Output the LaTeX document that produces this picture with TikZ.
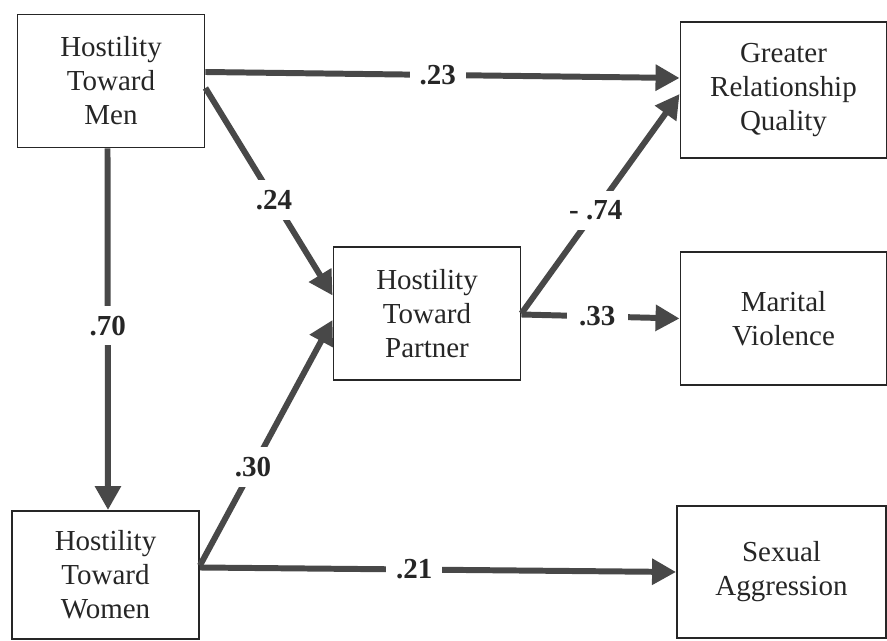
\documentclass[tikz,border=0pt]{standalone}
\usepackage{fontspec}
\setmainfont{Liberation Serif}
\usepackage{tikz}
\usetikzlibrary{arrows.meta,positioning,calc}
\definecolor{inkgray}{RGB}{38,38,38}
\definecolor{linegray}{RGB}{72,72,72}

\begin{document}
\begin{tikzpicture}[
  x=0.02cm, y=-0.02cm,
  block/.style={draw=inkgray, line width=1.1pt, minimum width=3.74cm, minimum height=2.66cm, align=center, text=inkgray, font=\rmfamily\fontsize{16.5}{19.4}\selectfont},
  outblock/.style={block, minimum width=4.12cm},
  effect/.style={-{Triangle[length=0.48cm, width=0.5cm]}, line width=3.4pt, draw=linegray},
  coef/.style={fill=white, inner sep=0.2cm, text=inkgray, font=\rmfamily\fontsize{16.5}{19}\selectfont\bfseries},
]
\useasboundingbox (0,0) rectangle (887,641);

% Nodes
\node[block] (men) at (111,81) {Hostility\\Toward\\Men};
\node[block, minimum height=2.56cm] (women) at (105.5,575) {Hostility\\Toward\\Women};
\node[block] (partner) at (427,313.5) {Hostility\\Toward\\Partner};
\node[outblock, minimum height=2.72cm] (quality) at (783.5,90) {Greater\\Relationship\\Quality};
\node[outblock] (violence) at (783.5,318.5) {Marital\\Violence};
\node[outblock, minimum width=4.18cm, minimum height=2.64cm] (aggression) at (781.5,572) {Sexual\\Aggression};

% Arrows
\draw[effect] ([yshift=0.18cm]men.east) -- node[coef, pos=0.49] {.23} ([yshift=0.24cm]quality.west);
\draw[effect] ([yshift=-0.14cm]men.east) -- node[coef, pos=0.54] {.24} ([yshift=0.36cm]partner.west);
\draw[effect] ([xshift=-0.07cm]men.south) -- node[coef, pos=0.49] {.70} ([xshift=0.05cm]women.north);
\draw[effect] ([yshift=0.19cm]women.east) -- node[coef, pos=0.40] {.30} ([yshift=-0.13cm]partner.west);
\draw[effect] ([yshift=0.15cm]women.east) -- node[coef, pos=0.45] {.21} (aggression.west);
\draw[effect] (partner.east) -- node[coef, pos=0.47] {- .74} ([yshift=-0.08cm]quality.west);
\draw[effect] ([yshift=-0.02cm]partner.east) -- node[coef, pos=0.48, inner xsep=0.25cm] {.33} (violence.west);
\end{tikzpicture}
\end{document}
